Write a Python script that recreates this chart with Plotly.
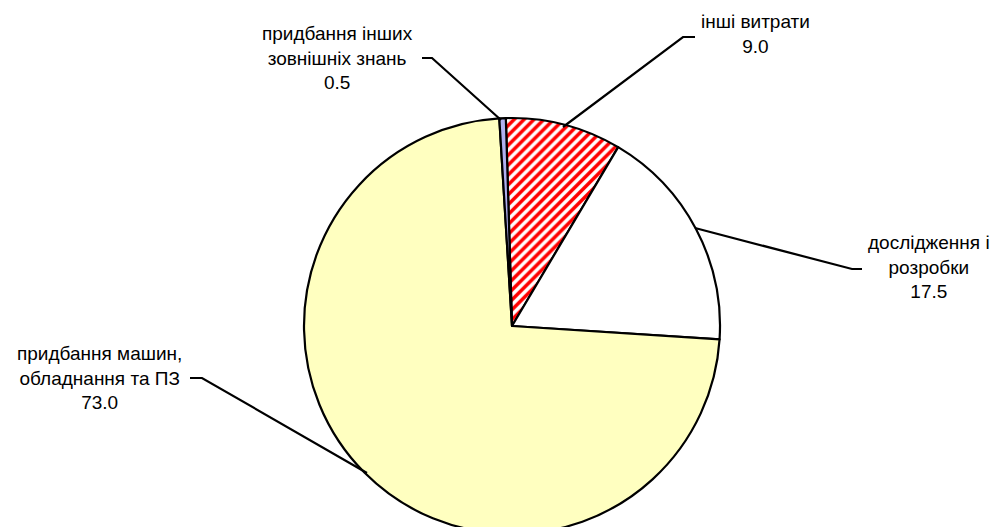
import plotly.graph_objects as go

# ---- data ----
categories = ["інші витрати", "дослідження і<br>розробки",
              "придбання машин,<br>обладнання та ПЗ",
              "придбання інших<br>зовнішніх знань"]
values = [9.0, 17.5, 73.0, 0.5]
colors = ["#FFFFFF", "#FFFFFF", "#FFFFC0", "#B0B0F0"]
pattern_shapes = ["/", "", "", ""]
pattern_fg = ["#FF0000", "#000000", "#000000", "#000000"]

W, H = 998, 545

def px(x):
    return x / W

def py(y):
    return 1 - y / H

fig = go.Figure()
fig.add_trace(go.Pie(
    labels=categories,
    values=values,
    sort=False,
    direction="clockwise",
    rotation=-1.7,
    textinfo="none",
    hoverinfo="label+value",
    showlegend=False,
    marker=dict(
        colors=colors,
        line=dict(color="black", width=2.2),
        pattern=dict(shape=pattern_shapes, fgcolor=pattern_fg,
                     bgcolor=colors, size=7, solidity=0.5,
                     fillmode="replace"),
    ),
    domain=dict(x=[px(304), px(720)], y=[py(534), py(118)]),
))

# label positions (pixel centers) and leader lines (pixel paths)
label_pos = [(755, 34), (929, 267), (99, 378), (337, 58)]
leaders = [
    [(563, 127), (683, 37), (695, 37)],
    [(695, 228), (852, 269), (862, 269)],
    [(367, 473), (202, 378), (190, 378)],
    [(501, 120), (432, 58), (422, 58)],
]

for cat, v, (lx, ly), pts in zip(categories, values, label_pos, leaders):
    fig.add_annotation(
        x=px(lx), y=py(ly), xref="paper", yref="paper",
        text=f"{cat}<br>{v:.1f}", showarrow=False,
        xanchor="center", yanchor="middle", align="center",
        font=dict(family="Liberation Sans, Arial, sans-serif", size=19, color="black"),
    )
    path = "M " + " L ".join(f"{px(x)},{py(y)}" for x, y in pts)
    fig.add_shape(type="path", path=path, xref="paper", yref="paper",
                  line=dict(color="black", width=2.2))

fig.update_layout(
    width=W, height=H,
    margin=dict(l=0, r=0, t=0, b=0),
    paper_bgcolor="white",
    plot_bgcolor="white",
)

fig.write_html("out.html",
               config={"displayModeBar": False},
               post_script="document.body.style.margin='0';document.body.style.overflow='hidden';document.documentElement.style.overflow='hidden';")
